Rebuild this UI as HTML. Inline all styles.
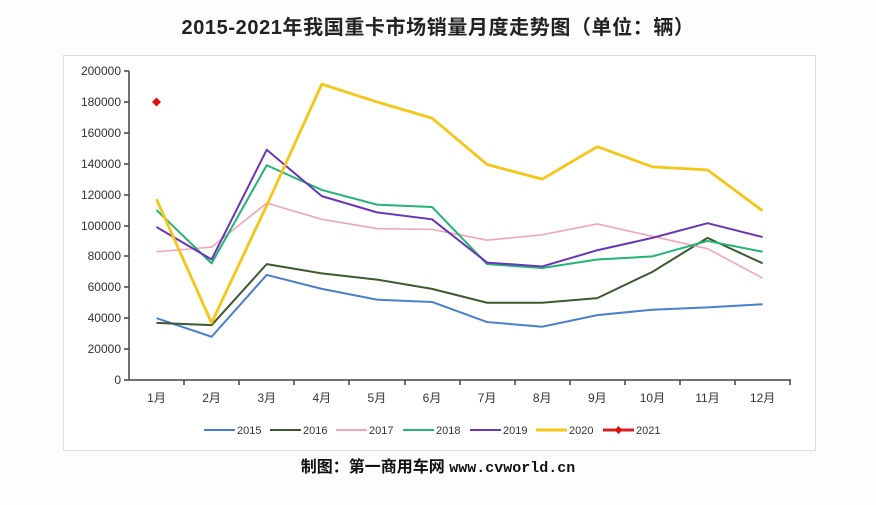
<!DOCTYPE html>
<html><head><meta charset="utf-8"><style>
body{margin:0;background:#fdfcfe;width:876px;height:500px;overflow:hidden;font-family:"Liberation Sans","Noto Sans CJK SC",sans-serif}
</style></head><body>
<svg width="876" height="500" xmlns="http://www.w3.org/2000/svg" font-family="Liberation Sans, Noto Sans CJK SC, sans-serif">
<rect width="876" height="500" fill="#fdfcfe"/>
<text x="438" y="34" text-anchor="middle" font-size="20" font-weight="bold" letter-spacing="0.6" fill="#222">2015-2021年我国重卡市场销量月度走势图（单位：辆）</text>
<rect x="63.5" y="55.5" width="752" height="395" fill="#fff" stroke="#ddd"/>
<g stroke="#444" stroke-width="1.5" fill="none">
<line x1="129" y1="71" x2="129" y2="380"/>
<line x1="129" y1="380" x2="791" y2="380"/>
<path d="M124 71H129M124 102H129M124 133H129M124 164H129M124 195H129M124 226H129M124 256H129M124 287H129M124 318H129M124 349H129M124 380H129"/>
<path d="M184 380V385M239 380V385M294 380V385M349 380V385M405 380V385M460 380V385M515 380V385M570 380V385M625 380V385M680 380V385M735 380V385M790 380V385"/>
</g>
<g font-size="12" fill="#333" text-anchor="end">
<text x="121" y="75">200000</text><text x="121" y="106">180000</text><text x="121" y="137">160000</text><text x="121" y="168">140000</text><text x="121" y="199">120000</text><text x="121" y="230">100000</text><text x="121" y="260">80000</text><text x="121" y="291">60000</text><text x="121" y="322">40000</text><text x="121" y="353">20000</text><text x="121" y="384">0</text>
</g>
<g font-size="12" fill="#333" text-anchor="middle">
<text x="156.5" y="402">1月</text><text x="211.6" y="402">2月</text><text x="266.7" y="402">3月</text><text x="321.8" y="402">4月</text><text x="376.9" y="402">5月</text><text x="432" y="402">6月</text><text x="487.1" y="402">7月</text><text x="542.2" y="402">8月</text><text x="597.3" y="402">9月</text><text x="652.4" y="402">10月</text><text x="707.5" y="402">11月</text><text x="762.6" y="402">12月</text>
</g>
<g transform="translate(101.4,380) scale(55.1,-0.001545)" fill="none" stroke-linejoin="round">
<polyline vector-effect="non-scaling-stroke" stroke="#4a7fd0" stroke-width="2" points="1,40000 2,28000 3,68000 4,59000 5,52000 6,50500 7,37500 8,34500 9,42000 10,45500 11,47000 12,49000"/>
<polyline vector-effect="non-scaling-stroke" stroke="#3d5a2e" stroke-width="2" points="1,37000 2,35500 3,75000 4,69000 5,65000 6,59000 7,50000 8,50000 9,53000 10,70000 11,92000 12,75500"/>
<polyline vector-effect="non-scaling-stroke" stroke="#f0a6b8" stroke-width="1.6" points="1,83000 2,86000 3,114500 4,104000 5,98000 6,97500 7,90500 8,94000 9,101000 10,93000 11,85000 12,66000"/>
<polyline vector-effect="non-scaling-stroke" stroke="#22b573" stroke-width="2" points="1,110000 2,75500 3,139000 4,123000 5,113500 6,112000 7,75000 8,72500 9,78000 10,80000 11,90000 12,83000"/>
<polyline vector-effect="non-scaling-stroke" stroke="#6a35b8" stroke-width="2" points="1,99000 2,78000 3,149000 4,119000 5,108500 6,104000 7,76000 8,73500 9,84000 10,92000 11,101500 12,92500"/>
<polyline vector-effect="non-scaling-stroke" stroke="#f5c518" stroke-width="2.8" points="1,117000 2,37000 3,113000 4,191500 5,180000 6,169500 7,139500 8,130000 9,151000 10,138000 11,136000 12,109500"/>
</g>
<path d="M156.5 97.5L161 102L156.5 106.5L152 102Z" fill="#e01010"/>
<g font-size="11" fill="#333">
<line x1="204" y1="430" x2="235" y2="430" stroke="#4a7fd0" stroke-width="2"/><text x="237" y="434">2015</text>
<line x1="270" y1="430" x2="301" y2="430" stroke="#3d5a2e" stroke-width="2"/><text x="303" y="434">2016</text>
<line x1="336" y1="430" x2="367" y2="430" stroke="#f0a6b8" stroke-width="2"/><text x="369" y="434">2017</text>
<line x1="403" y1="430" x2="434" y2="430" stroke="#22b573" stroke-width="2"/><text x="436" y="434">2018</text>
<line x1="470" y1="430" x2="501" y2="430" stroke="#6a35b8" stroke-width="2"/><text x="503" y="434">2019</text>
<line x1="536" y1="430" x2="567" y2="430" stroke="#f5c518" stroke-width="3"/><text x="569" y="434">2020</text>
<line x1="603" y1="430" x2="634" y2="430" stroke="#d42020" stroke-width="3"/><path d="M618.5 426L622.5 430L618.5 434L614.5 430Z" fill="#e01010"/><text x="636" y="434">2021</text>
</g>
<text x="438" y="472" text-anchor="middle" font-size="16" font-weight="bold" fill="#111">制图：第一商用车网 <tspan font-family="Liberation Mono, monospace" font-size="15">www.cvworld.cn</tspan></text>
</svg>
</body></html>
